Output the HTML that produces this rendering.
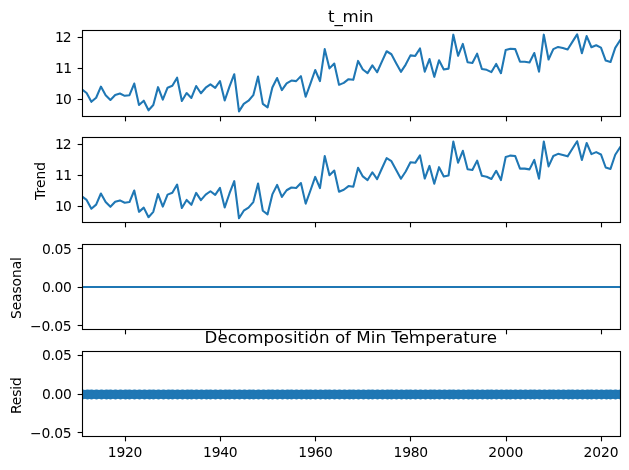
<!DOCTYPE html>
<html><head><meta charset="utf-8"><title>Decomposition of Min Temperature</title>
<style>html,body{margin:0;padding:0;background:#fff}</style></head>
<body>
<svg width="629" height="470" viewBox="0 0 629 470" style="display:block;font-family:'DejaVu Sans','Liberation Sans',sans-serif">
<rect width="629" height="470" fill="#fff"/>
<defs>
<clipPath id="c0"><rect x="82" y="30" width="538.5" height="86.5"/></clipPath>
<clipPath id="c1"><rect x="82" y="137" width="538.5" height="85.5"/></clipPath>
<clipPath id="c2"><rect x="82" y="244" width="538.5" height="85.5"/></clipPath>
<clipPath id="c3"><rect x="82" y="351" width="538.5" height="85.5"/></clipPath>
</defs>
<polyline clip-path="url(#c0)" points="81.85,89.37 86.61,93.04 91.37,101.83 96.14,97.72 100.90,86.59 105.66,95.16 110.42,99.94 115.19,94.93 119.95,93.49 124.71,95.82 129.47,95.16 134.24,83.58 139.00,104.95 143.76,100.72 148.52,110.29 153.29,104.95 158.05,87.14 162.81,99.72 167.57,87.70 172.34,85.81 177.10,77.68 181.86,101.05 186.62,93.04 191.38,97.94 196.15,86.03 200.91,93.26 205.67,87.70 210.43,84.36 215.20,87.92 219.96,81.02 224.72,100.50 229.48,86.59 234.25,74.24 239.01,111.40 243.77,103.84 248.53,100.72 253.30,95.16 258.06,76.57 262.82,103.84 267.58,107.40 272.35,87.49 277.11,78.03 281.87,90.05 286.63,83.37 291.40,80.59 296.16,81.15 300.92,76.14 305.68,96.73 310.44,83.60 315.21,70.02 319.97,81.15 324.73,49.13 329.49,68.38 334.26,63.59 339.02,84.85 343.78,82.84 348.54,79.17 353.31,79.84 358.07,60.92 362.83,69.49 367.59,73.16 372.36,65.37 377.12,72.27 381.88,61.60 386.64,51.25 391.41,54.25 396.17,63.16 400.93,71.84 405.69,64.60 410.45,55.37 415.22,55.92 419.98,48.47 424.74,71.61 429.50,59.04 434.27,76.84 439.03,60.27 443.79,69.51 448.55,68.62 453.32,34.67 458.08,55.82 462.84,43.91 467.60,62.27 472.37,63.05 477.13,53.70 481.89,68.95 486.65,69.84 491.42,72.07 496.18,63.94 500.94,73.18 505.70,50.03 510.47,48.70 515.23,49.14 519.99,61.72 524.75,61.72 529.51,62.49 534.28,53.04 539.04,71.73 543.80,34.67 548.56,59.49 553.33,49.14 558.09,46.92 562.85,48.03 567.61,49.47 572.38,41.91 577.14,34.34 581.90,53.15 586.66,36.12 591.43,47.25 596.19,45.25 600.95,47.58 605.71,60.60 610.48,62.05 615.24,47.81 620.00,40.46" fill="none" stroke="#1f77b4" stroke-width="2.083" stroke-linejoin="round" stroke-linecap="square"/>
<g stroke="#000" stroke-width="1.111" fill="none">
<line x1="125.5" x2="125.5" y1="116.5" y2="121.36"/>
<line x1="220.5" x2="220.5" y1="116.5" y2="121.36"/>
<line x1="315.5" x2="315.5" y1="116.5" y2="121.36"/>
<line x1="410.5" x2="410.5" y1="116.5" y2="121.36"/>
<line x1="506.5" x2="506.5" y1="116.5" y2="121.36"/>
<line x1="601.5" x2="601.5" y1="116.5" y2="121.36"/>
<line x1="77.64" x2="82.5" y1="37.5" y2="37.5"/>
<line x1="77.64" x2="82.5" y1="68.5" y2="68.5"/>
<line x1="77.64" x2="82.5" y1="99.5" y2="99.5"/>
<rect x="82.5" y="30.5" width="538.0" height="86.0"/>
</g>
<text x="55.12" y="42" font-size="13.889" textLength="16.51" lengthAdjust="spacing">12</text>
<text x="55.12" y="73" font-size="13.889" textLength="16.86" lengthAdjust="spacing">11</text>
<text x="55.12" y="104" font-size="13.889" textLength="16.61" lengthAdjust="spacing">10</text>
<polyline clip-path="url(#c1)" points="81.85,196.27 86.61,199.94 91.37,208.73 96.14,204.62 100.90,193.49 105.66,202.06 110.42,206.84 115.19,201.83 119.95,200.39 124.71,202.72 129.47,202.06 134.24,190.48 139.00,211.85 143.76,207.62 148.52,217.19 153.29,211.85 158.05,194.04 162.81,206.62 167.57,194.60 172.34,192.71 177.10,184.58 181.86,207.95 186.62,199.94 191.38,204.84 196.15,192.93 200.91,200.16 205.67,194.60 210.43,191.26 215.20,194.82 219.96,187.92 224.72,207.40 229.48,193.49 234.25,181.14 239.01,218.30 243.77,210.74 248.53,207.62 253.30,202.06 258.06,183.47 262.82,210.74 267.58,214.30 272.35,194.39 277.11,184.93 281.87,196.95 286.63,190.27 291.40,187.49 296.16,188.05 300.92,183.04 305.68,203.63 310.44,190.50 315.21,176.92 319.97,188.05 324.73,156.03 329.49,175.28 334.26,170.49 339.02,191.75 343.78,189.74 348.54,186.07 353.31,186.74 358.07,167.82 362.83,176.39 367.59,180.06 372.36,172.27 377.12,179.17 381.88,168.50 386.64,158.15 391.41,161.15 396.17,170.06 400.93,178.74 405.69,171.50 410.45,162.27 415.22,162.82 419.98,155.37 424.74,178.51 429.50,165.94 434.27,183.74 439.03,167.17 443.79,176.41 448.55,175.52 453.32,141.57 458.08,162.72 462.84,150.81 467.60,169.17 472.37,169.95 477.13,160.60 481.89,175.85 486.65,176.74 491.42,178.97 496.18,170.84 500.94,180.08 505.70,156.93 510.47,155.60 515.23,156.04 519.99,168.62 524.75,168.62 529.51,169.39 534.28,159.94 539.04,178.63 543.80,141.57 548.56,166.39 553.33,156.04 558.09,153.82 562.85,154.93 567.61,156.37 572.38,148.81 577.14,141.24 581.90,160.05 586.66,143.02 591.43,154.15 596.19,152.15 600.95,154.48 605.71,167.50 610.48,168.95 615.24,154.71 620.00,147.36" fill="none" stroke="#1f77b4" stroke-width="2.083" stroke-linejoin="round" stroke-linecap="square"/>
<g stroke="#000" stroke-width="1.111" fill="none">
<line x1="125.5" x2="125.5" y1="222.5" y2="227.36"/>
<line x1="220.5" x2="220.5" y1="222.5" y2="227.36"/>
<line x1="315.5" x2="315.5" y1="222.5" y2="227.36"/>
<line x1="410.5" x2="410.5" y1="222.5" y2="227.36"/>
<line x1="506.5" x2="506.5" y1="222.5" y2="227.36"/>
<line x1="601.5" x2="601.5" y1="222.5" y2="227.36"/>
<line x1="77.64" x2="82.5" y1="144.5" y2="144.5"/>
<line x1="77.64" x2="82.5" y1="175.5" y2="175.5"/>
<line x1="77.64" x2="82.5" y1="206.5" y2="206.5"/>
<rect x="82.5" y="137.5" width="538.0" height="85.0"/>
</g>
<text x="55.12" y="149" font-size="13.889" textLength="16.51" lengthAdjust="spacing">12</text>
<text x="55.12" y="180" font-size="13.889" textLength="16.86" lengthAdjust="spacing">11</text>
<text x="55.12" y="211" font-size="13.889" textLength="16.61" lengthAdjust="spacing">10</text>
<line clip-path="url(#c2)" x1="81.85" x2="620.0" y1="287.00" y2="287.00" stroke="#1f77b4" stroke-width="2.083"/>
<g stroke="#000" stroke-width="1.111" fill="none">
<line x1="125.5" x2="125.5" y1="329.5" y2="334.36"/>
<line x1="220.5" x2="220.5" y1="329.5" y2="334.36"/>
<line x1="315.5" x2="315.5" y1="329.5" y2="334.36"/>
<line x1="410.5" x2="410.5" y1="329.5" y2="334.36"/>
<line x1="506.5" x2="506.5" y1="329.5" y2="334.36"/>
<line x1="601.5" x2="601.5" y1="329.5" y2="334.36"/>
<line x1="77.64" x2="82.5" y1="248.5" y2="248.5"/>
<line x1="77.64" x2="82.5" y1="287.5" y2="287.5"/>
<line x1="77.64" x2="82.5" y1="325.5" y2="325.5"/>
<rect x="82.5" y="244.5" width="538.0" height="85.0"/>
</g>
<text x="41.97" y="254" font-size="13.889" textLength="29.96" lengthAdjust="spacing">0.05</text>
<text x="41.97" y="292" font-size="13.889" textLength="29.96" lengthAdjust="spacing">0.00</text>
<text x="30.05" y="331" font-size="13.889" textLength="41.58" lengthAdjust="spacing">−0.05</text>
<g clip-path="url(#c3)">
<line x1="81.85" x2="620.0" y1="394.50" y2="394.50" stroke="#000" stroke-width="2.083"/>
<g fill="#1f77b4" stroke="#1f77b4" stroke-width="1.389">
<circle cx="82.5" cy="394.50" r="4.297"/>
<circle cx="87.5" cy="394.50" r="4.297"/>
<circle cx="91.5" cy="394.50" r="4.297"/>
<circle cx="96.5" cy="394.50" r="4.297"/>
<circle cx="101.5" cy="394.50" r="4.297"/>
<circle cx="106.5" cy="394.50" r="4.297"/>
<circle cx="110.5" cy="394.50" r="4.297"/>
<circle cx="115.5" cy="394.50" r="4.297"/>
<circle cx="120.5" cy="394.50" r="4.297"/>
<circle cx="125.5" cy="394.50" r="4.297"/>
<circle cx="129.5" cy="394.50" r="4.297"/>
<circle cx="134.5" cy="394.50" r="4.297"/>
<circle cx="139.5" cy="394.50" r="4.297"/>
<circle cx="144.5" cy="394.50" r="4.297"/>
<circle cx="149.5" cy="394.50" r="4.297"/>
<circle cx="153.5" cy="394.50" r="4.297"/>
<circle cx="158.5" cy="394.50" r="4.297"/>
<circle cx="163.5" cy="394.50" r="4.297"/>
<circle cx="168.5" cy="394.50" r="4.297"/>
<circle cx="172.5" cy="394.50" r="4.297"/>
<circle cx="177.5" cy="394.50" r="4.297"/>
<circle cx="182.5" cy="394.50" r="4.297"/>
<circle cx="187.5" cy="394.50" r="4.297"/>
<circle cx="191.5" cy="394.50" r="4.297"/>
<circle cx="196.5" cy="394.50" r="4.297"/>
<circle cx="201.5" cy="394.50" r="4.297"/>
<circle cx="206.5" cy="394.50" r="4.297"/>
<circle cx="210.5" cy="394.50" r="4.297"/>
<circle cx="215.5" cy="394.50" r="4.297"/>
<circle cx="220.5" cy="394.50" r="4.297"/>
<circle cx="225.5" cy="394.50" r="4.297"/>
<circle cx="229.5" cy="394.50" r="4.297"/>
<circle cx="234.5" cy="394.50" r="4.297"/>
<circle cx="239.5" cy="394.50" r="4.297"/>
<circle cx="244.5" cy="394.50" r="4.297"/>
<circle cx="249.5" cy="394.50" r="4.297"/>
<circle cx="253.5" cy="394.50" r="4.297"/>
<circle cx="258.5" cy="394.50" r="4.297"/>
<circle cx="263.5" cy="394.50" r="4.297"/>
<circle cx="268.5" cy="394.50" r="4.297"/>
<circle cx="272.5" cy="394.50" r="4.297"/>
<circle cx="277.5" cy="394.50" r="4.297"/>
<circle cx="282.5" cy="394.50" r="4.297"/>
<circle cx="287.5" cy="394.50" r="4.297"/>
<circle cx="291.5" cy="394.50" r="4.297"/>
<circle cx="296.5" cy="394.50" r="4.297"/>
<circle cx="301.5" cy="394.50" r="4.297"/>
<circle cx="306.5" cy="394.50" r="4.297"/>
<circle cx="310.5" cy="394.50" r="4.297"/>
<circle cx="315.5" cy="394.50" r="4.297"/>
<circle cx="320.5" cy="394.50" r="4.297"/>
<circle cx="325.5" cy="394.50" r="4.297"/>
<circle cx="329.5" cy="394.50" r="4.297"/>
<circle cx="334.5" cy="394.50" r="4.297"/>
<circle cx="339.5" cy="394.50" r="4.297"/>
<circle cx="344.5" cy="394.50" r="4.297"/>
<circle cx="349.5" cy="394.50" r="4.297"/>
<circle cx="353.5" cy="394.50" r="4.297"/>
<circle cx="358.5" cy="394.50" r="4.297"/>
<circle cx="363.5" cy="394.50" r="4.297"/>
<circle cx="368.5" cy="394.50" r="4.297"/>
<circle cx="372.5" cy="394.50" r="4.297"/>
<circle cx="377.5" cy="394.50" r="4.297"/>
<circle cx="382.5" cy="394.50" r="4.297"/>
<circle cx="387.5" cy="394.50" r="4.297"/>
<circle cx="391.5" cy="394.50" r="4.297"/>
<circle cx="396.5" cy="394.50" r="4.297"/>
<circle cx="401.5" cy="394.50" r="4.297"/>
<circle cx="406.5" cy="394.50" r="4.297"/>
<circle cx="410.5" cy="394.50" r="4.297"/>
<circle cx="415.5" cy="394.50" r="4.297"/>
<circle cx="420.5" cy="394.50" r="4.297"/>
<circle cx="425.5" cy="394.50" r="4.297"/>
<circle cx="430.5" cy="394.50" r="4.297"/>
<circle cx="434.5" cy="394.50" r="4.297"/>
<circle cx="439.5" cy="394.50" r="4.297"/>
<circle cx="444.5" cy="394.50" r="4.297"/>
<circle cx="449.5" cy="394.50" r="4.297"/>
<circle cx="453.5" cy="394.50" r="4.297"/>
<circle cx="458.5" cy="394.50" r="4.297"/>
<circle cx="463.5" cy="394.50" r="4.297"/>
<circle cx="468.5" cy="394.50" r="4.297"/>
<circle cx="472.5" cy="394.50" r="4.297"/>
<circle cx="477.5" cy="394.50" r="4.297"/>
<circle cx="482.5" cy="394.50" r="4.297"/>
<circle cx="487.5" cy="394.50" r="4.297"/>
<circle cx="491.5" cy="394.50" r="4.297"/>
<circle cx="496.5" cy="394.50" r="4.297"/>
<circle cx="501.5" cy="394.50" r="4.297"/>
<circle cx="506.5" cy="394.50" r="4.297"/>
<circle cx="510.5" cy="394.50" r="4.297"/>
<circle cx="515.5" cy="394.50" r="4.297"/>
<circle cx="520.5" cy="394.50" r="4.297"/>
<circle cx="525.5" cy="394.50" r="4.297"/>
<circle cx="530.5" cy="394.50" r="4.297"/>
<circle cx="534.5" cy="394.50" r="4.297"/>
<circle cx="539.5" cy="394.50" r="4.297"/>
<circle cx="544.5" cy="394.50" r="4.297"/>
<circle cx="549.5" cy="394.50" r="4.297"/>
<circle cx="553.5" cy="394.50" r="4.297"/>
<circle cx="558.5" cy="394.50" r="4.297"/>
<circle cx="563.5" cy="394.50" r="4.297"/>
<circle cx="568.5" cy="394.50" r="4.297"/>
<circle cx="572.5" cy="394.50" r="4.297"/>
<circle cx="577.5" cy="394.50" r="4.297"/>
<circle cx="582.5" cy="394.50" r="4.297"/>
<circle cx="587.5" cy="394.50" r="4.297"/>
<circle cx="591.5" cy="394.50" r="4.297"/>
<circle cx="596.5" cy="394.50" r="4.297"/>
<circle cx="601.5" cy="394.50" r="4.297"/>
<circle cx="606.5" cy="394.50" r="4.297"/>
<circle cx="610.5" cy="394.50" r="4.297"/>
<circle cx="615.5" cy="394.50" r="4.297"/>
<circle cx="620.5" cy="394.50" r="4.297"/>
</g></g>
<g stroke="#000" stroke-width="1.111" fill="none">
<line x1="125.5" x2="125.5" y1="436.5" y2="441.36"/>
<line x1="220.5" x2="220.5" y1="436.5" y2="441.36"/>
<line x1="315.5" x2="315.5" y1="436.5" y2="441.36"/>
<line x1="410.5" x2="410.5" y1="436.5" y2="441.36"/>
<line x1="506.5" x2="506.5" y1="436.5" y2="441.36"/>
<line x1="601.5" x2="601.5" y1="436.5" y2="441.36"/>
<line x1="77.64" x2="82.5" y1="355.5" y2="355.5"/>
<line x1="77.64" x2="82.5" y1="394.5" y2="394.5"/>
<line x1="77.64" x2="82.5" y1="432.5" y2="432.5"/>
<rect x="82.5" y="351.5" width="538.0" height="85.0"/>
</g>
<text x="41.97" y="360" font-size="13.889" textLength="29.96" lengthAdjust="spacing">0.05</text>
<text x="41.97" y="399" font-size="13.889" textLength="29.96" lengthAdjust="spacing">0.00</text>
<text x="30.05" y="438" font-size="13.889" textLength="41.58" lengthAdjust="spacing">−0.05</text>
<text x="107.81" y="457" font-size="13.889" textLength="34.56" lengthAdjust="spacing">1920</text>
<text x="203.05" y="457" font-size="13.889" textLength="34.56" lengthAdjust="spacing">1940</text>
<text x="298.30" y="457" font-size="13.889" textLength="34.56" lengthAdjust="spacing">1960</text>
<text x="393.55" y="457" font-size="13.889" textLength="34.56" lengthAdjust="spacing">1980</text>
<text x="488.15" y="457" font-size="13.889" textLength="35.21" lengthAdjust="spacing">2000</text>
<text x="583.39" y="457" font-size="13.889" textLength="35.21" lengthAdjust="spacing">2020</text>
<text x="328.09" y="22" font-size="16.667" textLength="45.58" lengthAdjust="spacing">t_min</text>
<text x="350.82" y="343" font-size="16.667" text-anchor="middle" textLength="292.4" lengthAdjust="spacing">Decomposition of Min Temperature</text>
<text transform="translate(45.06,180.90) rotate(-90)" font-size="13.889" text-anchor="middle" textLength="37.98" lengthAdjust="spacing">Trend</text>
<text transform="translate(21.27,288.05) rotate(-90)" font-size="13.889" text-anchor="middle" textLength="62.0" lengthAdjust="spacing">Seasonal</text>
<text transform="translate(21.27,395.60) rotate(-90)" font-size="13.889" text-anchor="middle" textLength="36.95" lengthAdjust="spacing">Resid</text>
</svg>
</body></html>
